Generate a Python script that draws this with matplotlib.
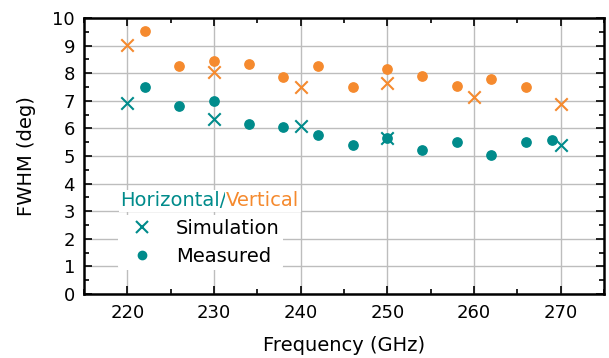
import numpy as np
import matplotlib
matplotlib.use("Agg")
import matplotlib.pyplot as plt
from matplotlib.lines import Line2D

# Data
sim_freq = [220, 230, 240, 250, 260, 270]
sim_vert = [9.02, 8.05, 7.49, 7.63, 7.15, 6.88]
sim_horiz_freq = [220, 230, 240, 250, 270]
sim_horiz = [6.93, 6.33, 6.09, 5.66, 5.40]

meas_vert_freq = [222, 226, 230, 234, 238, 242, 246, 250, 254, 258, 262, 266]
meas_vert = [9.54, 8.26, 8.44, 8.32, 7.85, 8.26, 7.49, 8.14, 7.90, 7.55, 7.79, 7.50]
meas_horiz_freq = [222, 226, 230, 234, 238, 242, 246, 250, 254, 258, 262, 266, 269]
meas_horiz = [7.50, 6.80, 6.98, 6.15, 6.03, 5.75, 5.40, 5.66, 5.20, 5.50, 5.03, 5.50, 5.57]

teal = "#008b8b"
orange = "#f58a2e"

fig = plt.figure(figsize=(6.09, 3.58), dpi=100)
ax = fig.add_axes([0.138, 0.179, 0.854, 0.771])

ax.scatter(meas_vert_freq, meas_vert, s=45, color=orange, marker="o", zorder=3)
ax.scatter(sim_freq, sim_vert, s=80, color=orange, marker="x", linewidths=1.5, zorder=3)
ax.scatter(meas_horiz_freq, meas_horiz, s=45, color=teal, marker="o", zorder=3)
ax.scatter(sim_horiz_freq, sim_horiz, s=80, color=teal, marker="x", linewidths=1.5, zorder=3)

ax.set_xlim(215, 275)
ax.set_ylim(0, 10)
ax.set_xticks(range(220, 271, 10))
ax.set_yticks(range(0, 11))
ax.set_xticks(range(215, 276, 5), minor=True)
ax.set_yticks(np.arange(0, 10.01, 0.5), minor=True)
ax.grid(True, which="major", color="#bdbdbd", linewidth=1)
ax.set_axisbelow(True)
ax.tick_params(which="both", direction="in", top=True, right=True, labelsize=13, width=1.2)
ax.tick_params(which="major", length=6)
ax.tick_params(which="minor", length=3.5)
ax.tick_params(axis="x", which="major", pad=7.5)
ax.tick_params(axis="y", which="major", pad=6.5)
for sp in ax.spines.values():
    sp.set_linewidth(1.8)

ax.set_xlabel("Frequency (GHz)", fontsize=14, labelpad=9.5)
ax.set_ylabel("FWHM (deg)", fontsize=14, labelpad=11.5)

handles = [
    Line2D([], [], color=teal, marker="x", linestyle="none", markersize=8, markeredgewidth=1.5),
    Line2D([], [], color=teal, marker="o", linestyle="none", markersize=6),
]
leg = ax.legend(handles, ["Simulation", "Measured"], loc="upper left",
                bbox_to_anchor=(0.066, 0.285), frameon=True, fontsize=14,
                handletextpad=0.75, borderpad=0.2, labelspacing=0.45,
                borderaxespad=0)
leg.get_frame().set_edgecolor("none")
leg.get_frame().set_facecolor("white")
leg.get_frame().set_alpha(1)

t1 = ax.text(0.069, 0.318, "Horizontal/", color=teal, fontsize=14,
             transform=ax.transAxes, va="baseline",
             bbox=dict(facecolor="white", edgecolor="none", pad=1))
ax.annotate("Vertical", xy=(1, 0), xycoords=t1, color=orange, fontsize=14,
            va="bottom", bbox=dict(facecolor="white", edgecolor="none", pad=1))

fig.savefig("out.png", dpi=100)
